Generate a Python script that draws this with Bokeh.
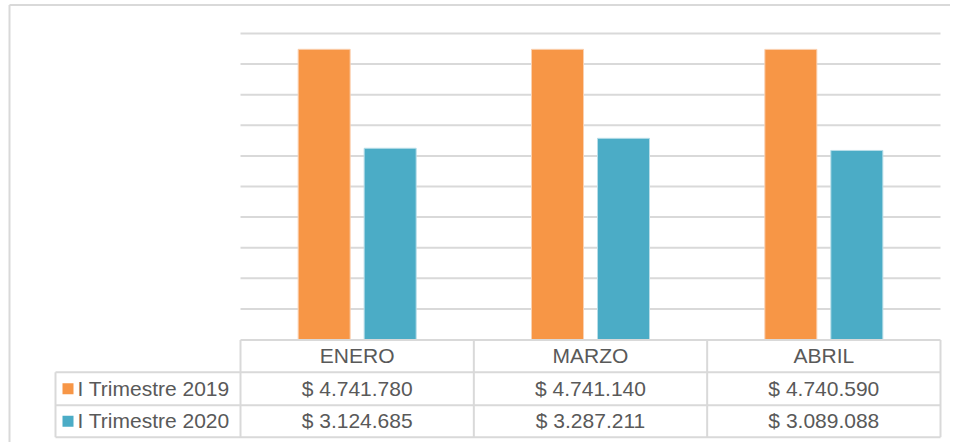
from bokeh.plotting import figure
from bokeh.models import Range1d
from bokeh.core.properties import value
from bokeh.embed import file_html
from bokeh.resources import INLINE

categories = ["ENERO", "MARZO", "ABRIL"]
series_names = ["I Trimestre 2019", "I Trimestre 2020"]
s2019 = [4741780, 4741140, 4740590]
s2020 = [3124685, 3287211, 3089088]
colors = ["#F79646", "#4BACC6"]
y_max = 5000000
grid_step = 500000

# page-pixel helpers (figure rendered at page offset 0,0)
OX, OY = 0, 0
U = 700 / 3.0                 # pixels per category
VPP = y_max / 306.0           # value per pixel


def X(px):
    return (px - 240) / U


def Y(py):
    return (339 - py) * VPP


W, H = 950, 442
p = figure(width=W, height=H, output_backend="svg", toolbar_location=None,
           x_range=Range1d(X(OX), X(OX + W)), y_range=Range1d(Y(OY + H), Y(OY)),
           min_border=0)
p.xaxis.visible = False
p.yaxis.visible = False
p.grid.visible = False
p.outline_line_color = None
p.background_fill_color = "white"
p.border_fill_color = "white"

GRID = "#D9D9D9"
TXT = "#595959"
FONT = value("Liberation Sans")
FS = "21px"

# gridlines
gv = list(range(grid_step, y_max + 1, grid_step))
p.segment(x0=[X(240)] * len(gv), x1=[X(940)] * len(gv), y0=gv, y1=gv,
          line_color=GRID, line_width=2)

# bars
n = len(categories)
centers = [i + 0.5 for i in range(n)]
off = 33 / U
bw = 52 / U
p.vbar(x=[c - off for c in centers], top=s2019, bottom=0, width=bw,
       fill_color=colors[0], line_color="#FAD0B0", line_width=1)
p.vbar(x=[c + off for c in centers], top=s2020, bottom=0, width=bw,
       fill_color=colors[1], line_color="#B7DDE8", line_width=1)

# data table
rows_y = [339.5, 371.7, 404.7, 436.7]
col_x = [240, 240 + U, 240 + 2 * U, 940]
hx0 = [X(240), X(55), X(55), X(55)]
hx1 = [X(940)] * 4
p.segment(x0=hx0, x1=hx1, y0=[Y(r) for r in rows_y], y1=[Y(r) for r in rows_y],
          line_color=GRID, line_width=2)
p.segment(x0=[X(55)], x1=[X(55)], y0=[Y(rows_y[1])], y1=[Y(rows_y[3])],
          line_color=GRID, line_width=2)
p.segment(x0=[X(c) for c in col_x], x1=[X(c) for c in col_x],
          y0=[Y(rows_y[0])] * 4, y1=[Y(rows_y[3])] * 4,
          line_color=GRID, line_width=2)

# outer chart border
p.segment(x0=[X(9), X(9)], x1=[X(9), X(OX + W)], y0=[Y(OY + H), Y(4.5)],
          y1=[Y(4.5), Y(4.5)], line_color="#D9D9D9", line_width=2)

row_c = [(rows_y[i] + rows_y[i + 1]) / 2 for i in range(3)]

p.text(x=centers, y=[Y(row_c[0] - 0.5)] * n, text=categories, text_font=FONT,
       text_font_size=FS, text_color=TXT, text_align="center",
       text_baseline="middle")


def fmt(v):
    return "$ " + f"{v:,}".replace(",", ".")


for k, vals in enumerate([s2019, s2020]):
    p.text(x=centers, y=[Y(row_c[k + 1] - 0.5)] * n, text=[fmt(v) for v in vals],
           text_font=FONT, text_font_size=FS, text_color=TXT,
           text_align="center", text_baseline="middle")
    p.scatter(x=[X(67.5)], y=[Y(row_c[k + 1])], marker="square", size=11,
              fill_color=colors[k], line_color=None)
    p.text(x=[X(77)], y=[Y(row_c[k + 1] - 0.5)], text=[series_names[k]],
           text_font=FONT, text_font_size=FS, text_color=TXT,
           text_align="left", text_baseline="middle")

open("out.html", "w").write(file_html(p, INLINE))
